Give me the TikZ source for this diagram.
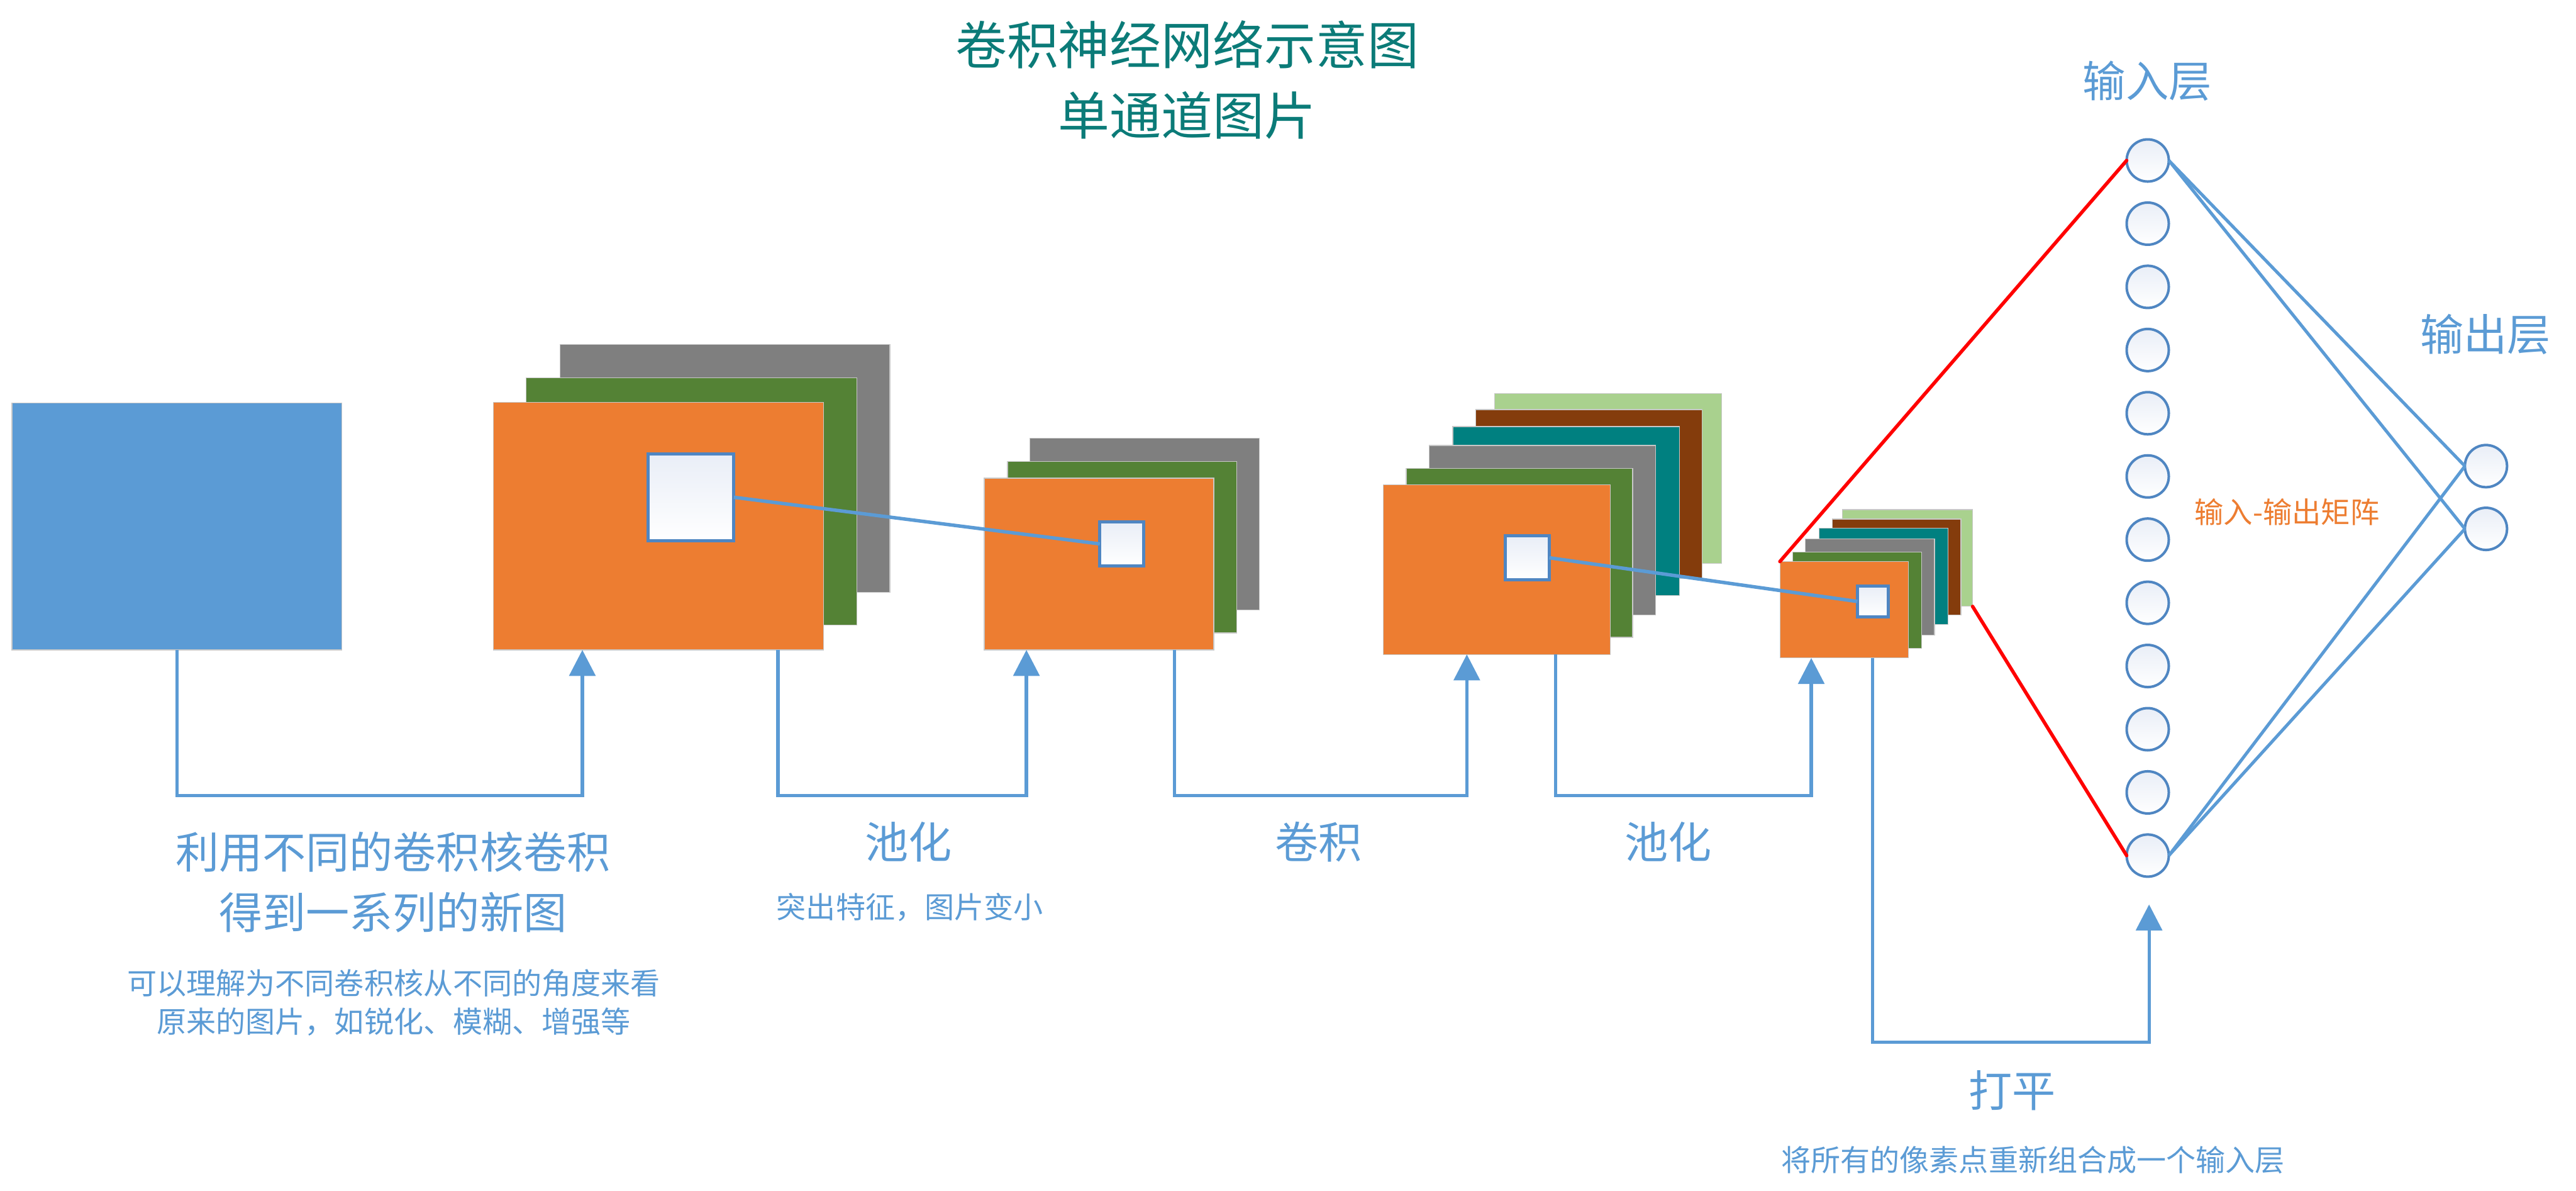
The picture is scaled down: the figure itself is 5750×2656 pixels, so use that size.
\documentclass[tikz,border=0pt]{standalone}
\usepackage{fontspec}
\newfontfamily\cjkfont{Noto Sans CJK SC}
\usetikzlibrary{arrows.meta,calc}
\definecolor{cblue}{HTML}{5B9BD5}
\definecolor{corange}{HTML}{ED7D31}
\definecolor{cgreen}{HTML}{548235}
\definecolor{cgray}{HTML}{7F7F7F}
\definecolor{cteal}{HTML}{008080}
\definecolor{cbrown}{HTML}{843C0C}
\definecolor{clgreen}{HTML}{A9D18E}
\definecolor{ctitle}{HTML}{0B7B78}
\definecolor{cedge}{HTML}{4F86C2}
\definecolor{cframe}{HTML}{C8C8C8}
\definecolor{cshade}{HTML}{E9EEF7}
\newcommand{\fmap}[6]{%
  \pgfmathsetmacro{\fmW}{(#5-#3)/100}%
  \pgfmathsetmacro{\fmH}{(#6-#4)/100}%
  \node[#2, minimum width=\fmW cm, minimum height=\fmH cm] (#1) at ({(#3+#5)/2},{(#4+#6)/2}) {};}
\begin{document}
\begin{tikzpicture}[x=0.01cm, y=-0.01cm,
  fmapbox/.style={rectangle, draw=cframe, line width=0.5pt, inner sep=0pt, outer sep=0pt},
  kernel/.style={rectangle, draw=cedge, line width=2pt, top color=cshade, bottom color=white, inner sep=0pt, outer sep=0pt},
  neuron/.style={circle, draw=cedge, line width=1.6pt, top color=cshade, bottom color=white, minimum size=0.94cm, inner sep=0pt, outer sep=0pt},
  conn/.style={draw=cblue, line width=2.1pt, -{Triangle[width=0.58cm,length=0.58cm]}},
  link/.style={draw=cblue, line width=2.2pt},
  redline/.style={draw=red, line width=2.2pt, line cap=round},
  wire/.style={draw=cblue, line width=2pt},
  lbl/.style={text=cblue, align=center, inner sep=0pt},
  bigtxt/.style={lbl, font=\cjkfont\fontsize{27.6pt}{38.4pt}\selectfont},
  smalltxt/.style={lbl, font=\cjkfont\fontsize{18.8pt}{24.5pt}\selectfont}]
\useasboundingbox[fill=white] (0,0) rectangle (5750,2656);

% title
\node[align=center, inner sep=0pt, text=ctitle, font=\cjkfont\fontsize{32.7pt}{45pt}\selectfont] (title) at (2650,178) {卷积神经网络示意图\\单通道图片};

% input image
\fmap{blue}{fmapbox, fill=cblue}{27}{899}{763}{1450}

% conv 1
\fmap{g1}{fmapbox, fill=cgray}{1250}{769}{1986}{1321}
\fmap{n1}{fmapbox, fill=cgreen}{1175}{843}{1912}{1394}
\fmap{o1}{fmapbox, fill=corange}{1101}{898}{1838}{1450}
\fmap{s1}{kernel}{1447}{1013}{1638}{1206}

% pool 1
\fmap{g2}{fmapbox, fill=cgray}{2299}{978}{2811}{1361}
\fmap{n2}{fmapbox, fill=cgreen}{2249}{1030}{2760}{1412}
\fmap{o2}{fmapbox, fill=corange}{2197}{1067}{2709}{1450}
\fmap{s2}{kernel}{2455}{1164}{2553}{1263}

% conv 2
\fmap{l3}{fmapbox, fill=clgreen}{3336}{878}{3843}{1257}
\fmap{b3}{fmapbox, fill=cbrown}{3294}{914}{3799}{1291}
\fmap{t3}{fmapbox, fill=cteal}{3243}{952}{3749}{1329}
\fmap{g3}{fmapbox, fill=cgray}{3190}{994}{3695}{1372}
\fmap{n3}{fmapbox, fill=cgreen}{3139}{1045}{3644}{1422}
\fmap{o3}{fmapbox, fill=corange}{3088}{1082}{3594}{1460}
\fmap{s3}{kernel}{3360}{1196}{3458}{1293}

% pool 2
\fmap{l4}{fmapbox, fill=clgreen}{4113}{1137}{4403}{1353}
\fmap{b4}{fmapbox, fill=cbrown}{4090}{1158}{4377}{1372}
\fmap{t4}{fmapbox, fill=cteal}{4061}{1179}{4348}{1393}
\fmap{g4}{fmapbox, fill=cgray}{4030}{1202}{4318}{1417}
\fmap{n4}{fmapbox, fill=cgreen}{4002}{1232}{4289}{1447}
\fmap{o4}{fmapbox, fill=corange}{3973}{1253}{4260}{1468}
\fmap{s4}{kernel}{4146}{1308}{4215}{1376}

% kernel links
\draw[link] (s1.east) -- (s2.west);
\draw[link] (s3.east) -- (s4.west);

% input layer neurons
\foreach \i in {1,...,12} {
  \node[neuron] (in\i) at (4794,{358+(\i-1)*141}) {};
}
\node[neuron] (out1) at (5549,1040) {};
\node[neuron] (out2) at (5549,1180) {};

% red frustum lines
\draw[redline] (o4.north west) -- (in1.west);
\draw[redline] (l4.south east) -- (in12.west);

% fully connected wires
\draw[wire] (in1.east) -- (out1.west);
\draw[wire] (in1.east) -- (out2.west);
\draw[wire] (in12.east) -- (out1.west);
\draw[wire] (in12.east) -- (out2.west);

% connector anchor points
\coordinate (bus) at (0,1775);
\coordinate (busb) at (0,2325);
\coordinate (o1in) at ($(o1.south west)!0.27!(o1.south east)$);
\coordinate (o1out) at ($(o1.south west)!0.862!(o1.south east)$);
\coordinate (o2in) at ($(o2.south west)!0.184!(o2.south east)$);
\coordinate (o2out) at ($(o2.south west)!0.83!(o2.south east)$);
\coordinate (o3in) at ($(o3.south west)!0.368!(o3.south east)$);
\coordinate (o3out) at ($(o3.south west)!0.759!(o3.south east)$);
\coordinate (o4in) at ($(o4.south west)!0.244!(o4.south east)$);
\coordinate (o4out) at ($(o4.south west)!0.72!(o4.south east)$);
\coordinate (flat) at ($(in12.south)+(3,62)$);

\draw[conn] (blue.south) -- (blue.south |- bus) -| (o1in);
\draw[conn] (o1out) -- (o1out |- bus) -| (o2in);
\draw[conn] (o2out) -- (o2out |- bus) -| (o3in);
\draw[conn] (o3out) -- (o3out |- bus) -| (o4in);
\draw[conn] (o4out) -- (o4out |- busb) -| (flat);

% labels
\node[bigtxt] (lconv1) at (877,1968) {利用不同的卷积核卷积\\得到一系列的新图};
\node[smalltxt] (nconv1) at (879,2237) {可以理解为不同卷积核从不同的角度来看\\原来的图片，如锐化、模糊、增强等};
\node[bigtxt] (lpool1) at (2028,1878) {池化};
\node[smalltxt] (npool1) at (2031,2024) {突出特征，图片变小};
\node[bigtxt] (lconv2) at (2943,1878) {卷积};
\node[bigtxt] (lpool2) at (3724,1878) {池化};
\node[bigtxt] (lflat) at (4492,2433) {打平};
\node[smalltxt] (nflat) at (4538,2588) {将所有的像素点重新组合成一个输入层};
\node[lbl, font=\cjkfont\fontsize{27.3pt}{30pt}\selectfont] (linput) at (4793,180) {输入层};
\node[lbl, font=\cjkfont\fontsize{27.6pt}{30pt}\selectfont] (loutput) at (5548,746) {输出层};
\node[inner sep=0pt, text=corange, font=\cjkfont\fontsize{18.5pt}{20pt}\selectfont] (lmat) at (5105,1143) {输入-输出矩阵};
\end{tikzpicture}
\end{document}
